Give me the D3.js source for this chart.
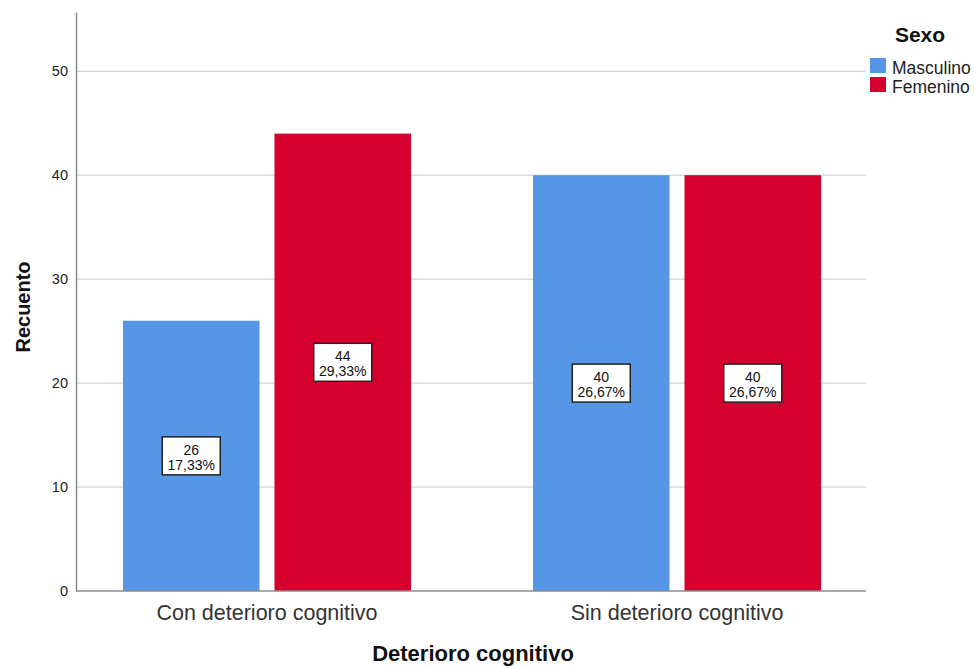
<!DOCTYPE html>
<html><head><meta charset="utf-8">
<script src="https://cdn.jsdelivr.net/npm/d3@7"></script>
<style>body{margin:0;background:#fff}svg{display:block;font-family:"Liberation Sans",Arial,sans-serif}</style>
</head><body><svg id="c" width="974" height="668"></svg>
<script>
const categories = ["Con deterioro cognitivo", "Sin deterioro cognitivo"];
const seriesNames = ["Masculino", "Femenino"];
const masculino = [26, 40];
const femenino = [44, 40];
const percentLabels = [["17,33%", "26,67%"], ["29,33%", "26,67%"]];
const yTicks = [0, 10, 20, 30, 40, 50];
const colors = ["#5597e6", "#d6002f"];

const svg = d3.select("#c");
const y = d3.scaleLinear().domain([0, 55.7]).range([591, 12]);
const x0 = d3.scaleBand().domain(categories).range([123, 821]).paddingInner(0.2976).paddingOuter(0);
const x1 = d3.scaleBand().domain(seriesNames).range([0, x0.bandwidth()]).paddingInner(0.099);
const values = [masculino, femenino];

// gridlines
svg.append("g").selectAll("line").data(yTicks.filter(d => d > 0)).join("line")
  .attr("x1", 76).attr("x2", 866).attr("y1", d => y(d)).attr("y2", d => y(d))
  .attr("stroke", "#c8c8c8").attr("stroke-width", 1);

// bars
const data = [];
categories.forEach((c, i) => seriesNames.forEach((s, j) => data.push({c, s, v: values[j][i], p: percentLabels[j][i], j})));
svg.append("g").selectAll("rect").data(data).join("rect")
  .attr("x", d => x0(d.c) + x1(d.s)).attr("width", x1.bandwidth())
  .attr("y", d => y(d.v)).attr("height", d => y(0) - y(d.v))
  .attr("fill", d => colors[d.j]);

// axes
const yAxis = d3.axisLeft(y).tickValues(yTicks).tickSize(0).tickPadding(8);
const gy = svg.append("g").attr("transform", "translate(76,0)").call(yAxis);
gy.select(".domain").attr("stroke", "#8c8c8c").attr("stroke-width", 1.5);
gy.selectAll("text").attr("font-size", 14.5).attr("fill", "#222").attr("font-family", "Liberation Sans, Arial");

const xAxis = d3.axisBottom(x0).tickSize(0).tickPadding(12);
const gx = svg.append("g").attr("transform", "translate(0,591)").call(xAxis);
gx.select(".domain").remove();
svg.append("line").attr("x1", 76).attr("x2", 866).attr("y1", 591).attr("y2", 591).attr("stroke", "#8c8c8c").attr("stroke-width", 1.5);
gx.selectAll("text").attr("font-size", 21.5).attr("fill", "#333").attr("font-family", "Liberation Sans, Arial")
  .attr("dy", null).attr("y", 29);

// labels
const lg = svg.append("g").selectAll("g").data(data).join("g")
  .attr("transform", d => `translate(${x0(d.c) + x1(d.s) + x1.bandwidth()/2},${(y(d.v) + y(0))/2})`);
lg.append("rect").attr("x", -29).attr("y", -19).attr("width", 58).attr("height", 38)
  .attr("fill", "#fff").attr("stroke", "#222").attr("stroke-width", 1.5);
lg.append("text").attr("text-anchor", "middle").attr("y", -1).attr("font-size", 14).attr("fill", "#111").text(d => d.v);
lg.append("text").attr("text-anchor", "middle").attr("y", 14).attr("font-size", 14).attr("fill", "#111").text(d => d.p);

// axis titles
svg.append("text").attr("transform", "translate(30,307) rotate(-90)").attr("text-anchor", "middle")
  .attr("font-size", 20).attr("font-weight", "bold").attr("fill", "#111").text("Recuento");
svg.append("text").attr("x", 473).attr("y", 661).attr("text-anchor", "middle")
  .attr("font-size", 22).attr("font-weight", "bold").attr("fill", "#111").text("Deterioro cognitivo");

// legend
svg.append("text").attr("x", 920).attr("y", 42).attr("text-anchor", "middle")
  .attr("font-size", 21).attr("font-weight", "bold").attr("fill", "#111").text("Sexo");
const leg = svg.append("g").selectAll("g").data(seriesNames).join("g")
  .attr("transform", (d, i) => `translate(870,${58 + i * 19})`);
leg.append("rect").attr("width", 16).attr("height", 15).attr("fill", (d, i) => colors[i]);
leg.append("text").attr("x", 22).attr("y", 15.5).attr("font-size", 17.5).attr("fill", "#222").text(d => d);
</script></body></html>
